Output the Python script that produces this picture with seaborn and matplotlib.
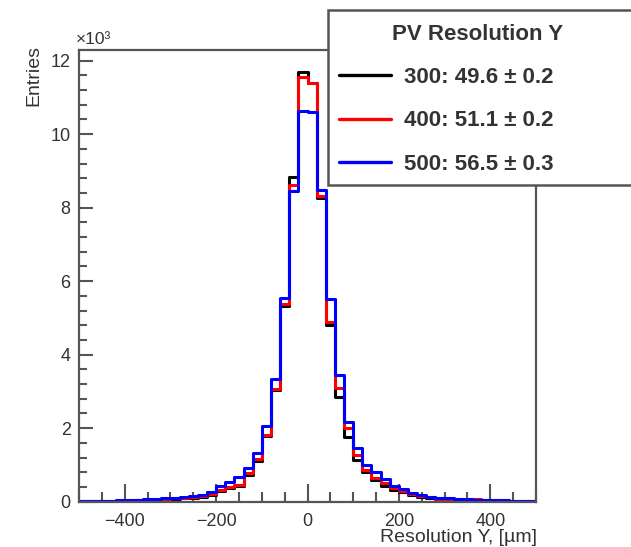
import numpy as np
import pandas as pd
import matplotlib
matplotlib.use("Agg")
import matplotlib.pyplot as plt
from matplotlib.ticker import MultipleLocator, FuncFormatter
from matplotlib.lines import Line2D
from matplotlib.patches import Rectangle
import seaborn as sns

# 50 bins of 20 um between -500 and 500 um
bin_width = 20
bin_range = (-500, 500)
bin_centers = np.arange(bin_range[0] + bin_width / 2, bin_range[1], bin_width)

# entries per bin for each configuration
entries_300 = [18, 20, 22, 24, 28, 30, 35, 45, 50, 75,
               85, 95, 110, 140, 190, 300, 370, 430, 740, 1120,
               1790, 3030, 5330, 8830, 11680, 11380, 8250, 4800, 2860, 1770,
               1130, 800, 600, 430, 320, 260, 190, 140, 100, 80,
               65, 55, 45, 40, 35, 30, 28, 24, 22, 18]
entries_400 = [20, 20, 25, 25, 30, 30, 50, 50, 55, 80,
               90, 100, 120, 150, 200, 320, 390, 450, 770, 1150,
               1820, 3060, 5370, 8620, 11550, 11400, 8320, 4900, 3090, 2000,
               1270, 860, 640, 500, 360, 280, 210, 150, 130, 85,
               70, 60, 50, 60, 55, 35, 30, 25, 25, 20]
entries_500 = [25, 25, 30, 30, 35, 35, 40, 60, 70, 100,
               110, 120, 150, 190, 260, 420, 540, 660, 910, 1330,
               2050, 3340, 5550, 8450, 10620, 10600, 8480, 5520, 3450, 2180,
               1450, 1000, 810, 630, 440, 350, 250, 170, 130, 100,
               90, 80, 70, 55, 50, 40, 35, 30, 30, 25]

series_names = ["300", "400", "500"]
series_labels = ["300: 49.6 \u00b1 0.2", "400: 51.1 \u00b1 0.2", "500: 56.5 \u00b1 0.3"]
series_colors = ["#000000", "#ff0000", "#0000ff"]
series_entries = [entries_300, entries_400, entries_500]

legend_title = "PV Resolution Y"
x_title = "Resolution Y, [\u00b5m]"
y_title = "Entries"

sns.set_theme(style="white")
plt.rcParams["font.family"] = ["Liberation Sans", "DejaVu Sans"]

text_color = "#333333"
frame_color = "#555555"

W, H = 631, 547
fig = plt.figure(figsize=(W / 100, H / 100), dpi=100)
ax = fig.add_axes([79 / W, 1 - 501.7 / H, (536 - 79) / W, (501.7 - 50) / H])

frames = []
for name, vals in zip(series_names, series_entries):
    frames.append(pd.DataFrame({"resolution": bin_centers, "entries": vals, "config": name}))
df = pd.concat(frames, ignore_index=True)

for name, color in zip(series_names, series_colors):
    sns.histplot(data=df[df["config"] == name], x="resolution", weights="entries",
                 binwidth=bin_width, binrange=bin_range, element="step", fill=False,
                 color=color, linewidth=2.2, ax=ax, legend=False)

ax.set_xlim(-500, 500)
ax.set_ylim(0, 12290)
ax.set_xlabel("")
ax.set_ylabel("")

ax.xaxis.set_major_locator(MultipleLocator(200))
ax.xaxis.set_minor_locator(MultipleLocator(50))
ax.yaxis.set_major_locator(MultipleLocator(2000))
ax.yaxis.set_minor_locator(MultipleLocator(400))
ax.yaxis.set_major_formatter(FuncFormatter(lambda v, _: f"{v / 1000:g}"))
ax.xaxis.set_major_formatter(FuncFormatter(lambda v, _: f"{v:g}".replace("-", "\u2212")))

ax.tick_params(axis="both", which="both", direction="in", bottom=True, left=True,
               top=False, right=False, color=frame_color, width=1.5,
               labelcolor=text_color, labelsize=13)
ax.tick_params(axis="x", which="major", length=13, pad=8)
ax.tick_params(axis="x", which="minor", length=7)
ax.tick_params(axis="y", which="major", length=10, pad=6)
ax.tick_params(axis="y", which="minor", length=6)

for sp in ax.spines.values():
    sp.set_visible(True)
    sp.set_color(frame_color)
    sp.set_linewidth(1.6)

fig.text(76 / W, 1 - 40 / H, "\u00d710\u00b3", ha="left", va="center",
         fontsize=12.5, color=text_color)
fig.text(34 / W, 1 - 45 / H, y_title, rotation=90, ha="center", va="top",
         fontsize=14, color=text_color)
fig.text(537 / W, 1 - 537 / H, x_title, ha="right", va="center",
         fontsize=14, color=text_color)

# legend box: white panel with a grey border running off the right edge
fig.patches.append(Rectangle((327.5 / W, 1 - 185 / H), (645 - 327.5) / W, 175 / H,
                             transform=fig.transFigure, facecolor="white",
                             edgecolor=frame_color, linewidth=1.8, zorder=3))

handles = [Line2D([0], [0], color=c, linewidth=2.4) for c in series_colors]
leg = fig.legend(handles, series_labels, title=legend_title,
                 loc="upper left", bbox_to_anchor=(324.5 / W, 0, 1 - 324.5 / W, 1 - 9.5 / H),
                 mode="expand", borderaxespad=0, frameon=False,
                 prop={"weight": "bold", "size": 16},
                 title_fontproperties={"weight": "bold", "size": 16},
                 handlelength=2.35, handletextpad=0.6, labelspacing=1.0,
                 borderpad=0.65)
leg.set_zorder(5)
for t in leg.get_texts():
    t.set_color(text_color)
leg.get_title().set_color(text_color)

fig.savefig("out.png", dpi=100, facecolor="white")
